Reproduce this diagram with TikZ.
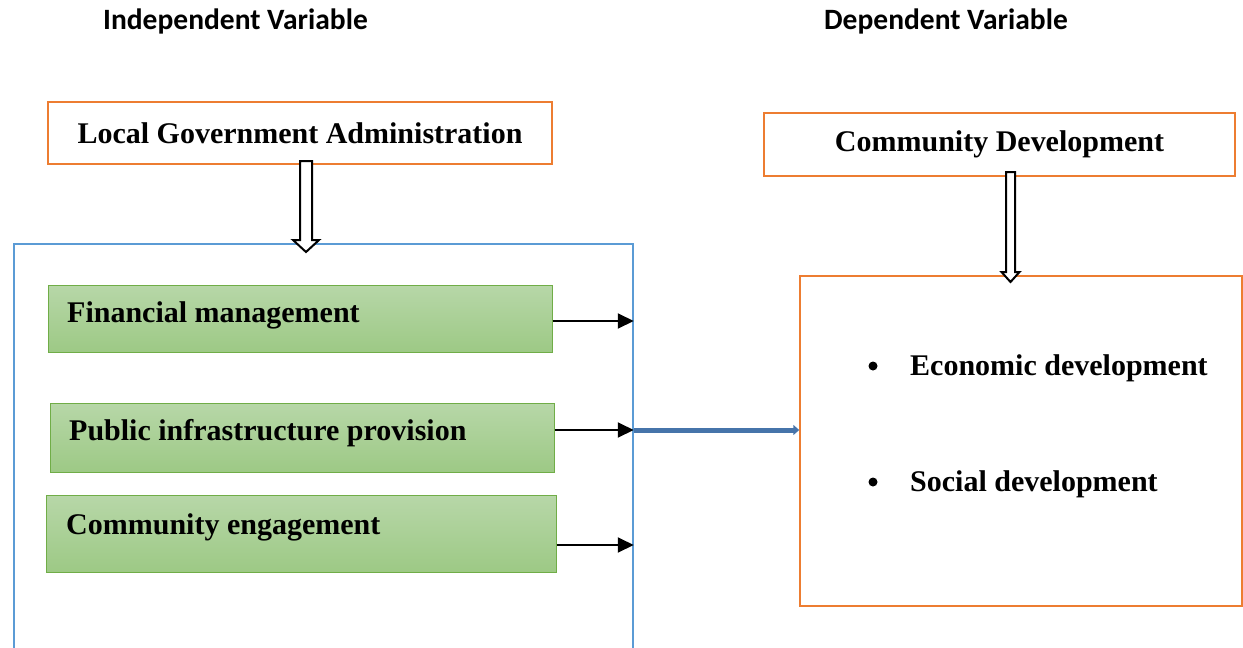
\documentclass[tikz,border=0pt]{standalone}
\usepackage{fontspec}
\setmainfont{Liberation Serif}
\newfontfamily\headfont{Carlito}
\usetikzlibrary{arrows.meta,calc}
\definecolor{frameorange}{RGB}{237,125,49}
\definecolor{frameblue}{RGB}{91,155,213}
\definecolor{greenedge}{RGB}{112,173,71}
\definecolor{greentop}{RGB}{183,215,168}
\definecolor{greenbot}{RGB}{157,201,133}
\definecolor{linkblue}{RGB}{70,116,170}

\begin{document}
\begin{tikzpicture}[x=1pt,y=-1pt,
  heading/.style={font=\headfont\bfseries\fontsize{29.5}{34}\selectfont, inner sep=0},
  orangebox/.style={draw=frameorange, line width=1.5pt, fill=white,
    font=\bfseries\fontsize{30}{34}\selectfont, inner sep=0},
  factorbox/.style={draw=greenedge, line width=1pt, top color=greentop,
    bottom color=greenbot, inner sep=0},
  itemtext/.style={font=\bfseries\fontsize{30}{34}\selectfont, anchor=base west, inner sep=0},
  bulletdot/.style={circle, fill=black, inner sep=0, minimum size=9pt},
  hollowarrow/.style={draw=black, fill=white, line width=2pt, line join=miter},
  feed/.style={line width=2pt, -{Triangle[length=16pt,width=15pt]}},
  link/.style={draw=linkblue, line width=5pt, -{Triangle[length=6pt,width=10pt]}},
]
\clip (0,0) rectangle (1243,648);

% column headings
\node[heading] (ivhead) at (235.5,21) {Independent Variable};
\node[heading] (dvhead) at (946,21) {Dependent Variable};

% independent side
\node[orangebox, minimum width=504pt, minimum height=62pt] (lga) at (300,133)
  {Local Government Administration};
\node[draw=frameblue, line width=1.5pt, minimum width=619pt, minimum height=440pt]
  (ivbox) at (323.5,464) {};

\node[factorbox, minimum width=504pt, minimum height=67pt] (fm) at (300,318.5) {};
\node[factorbox, minimum width=504pt, minimum height=69pt] (pip) at (302,437.5) {};
\node[factorbox, minimum width=510pt, minimum height=77pt] (ce) at (301,533.5) {};
\node[itemtext] (fmtext) at (67,322) {Financial management};
\node[itemtext] (piptext) at (69,440) {Public infrastructure provision};
\node[itemtext] (cetext) at (66,534) {Community engagement};

% dependent side
\node[orangebox, minimum width=471pt, minimum height=63pt] (cd) at (999.5,144.5)
  {Community Development};
\node[draw=frameorange, line width=1.5pt, minimum width=442pt, minimum height=330pt]
  (dv) at (1021,441) {};
\node[bulletdot] (b1) at (873,366) {};
\node[bulletdot] (b2) at (873,482) {};
\node[itemtext] (econ) at (910,375) {Economic development};
\node[itemtext] (soc) at (910,491) {Social development};

% hollow block arrows into the frames
\coordinate (a1) at (306,161);
\coordinate (a1tip) at (306,252);
\draw[hollowarrow] ($(a1)+(-6,0)$) -- ($(a1tip)+(-6,-12)$) -- ($(a1tip)+(-13,-12)$)
  -- (a1tip) -- ($(a1tip)+(13,-12)$) -- ($(a1tip)+(6,-12)$) -- ($(a1)+(6,0)$) -- cycle;
\coordinate (a2) at (1010.5,172);
\coordinate (a2tip) at (1010.5,282);
\draw[hollowarrow] ($(a2)+(-4.5,0)$) -- ($(a2tip)+(-4.5,-10)$) -- ($(a2tip)+(-9,-10)$)
  -- (a2tip) -- ($(a2tip)+(9,-10)$) -- ($(a2tip)+(4.5,-10)$) -- ($(a2)+(4.5,0)$) -- cycle;

% factor outputs
\coordinate (fmout) at ($(fm.east)+(0,2.5)$);
\coordinate (pipout) at ($(pip.east)+(0,-7.5)$);
\coordinate (ceout) at ($(ce.east)+(0,11.5)$);
\draw[feed] (fmout) -- (fmout -| ivbox.east);
\draw[feed] (pipout) -- (pipout -| ivbox.east);
\draw[feed] (ceout) -- (ceout -| ivbox.east);

% link between the two variables
\draw[link] (pipout -| ivbox.east) -- (pipout -| dv.west);
\end{tikzpicture}
\end{document}
